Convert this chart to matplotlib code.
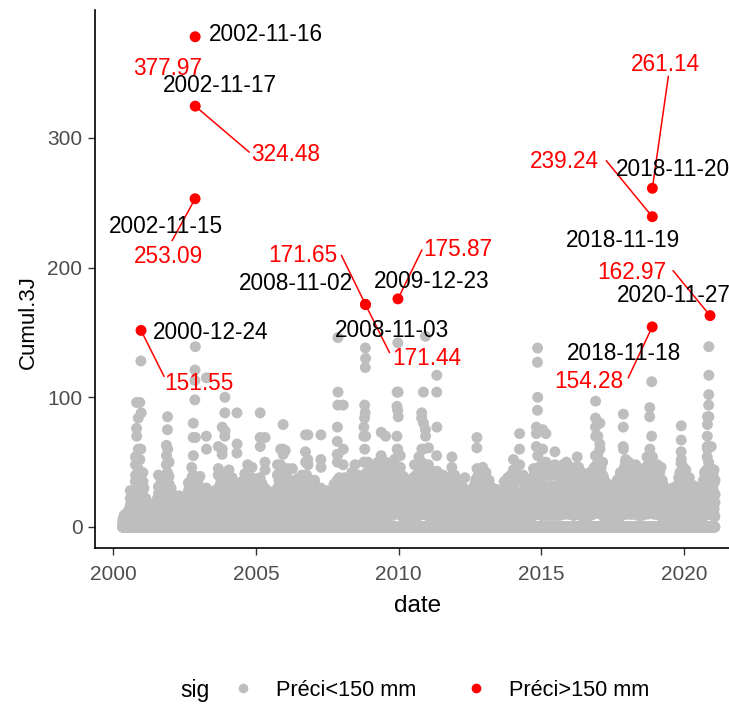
import numpy as np
import pandas as pd
import matplotlib
matplotlib.use("Agg")
import matplotlib.pyplot as plt
import matplotlib.dates as mdates
from matplotlib.lines import Line2D

plt.rcParams['font.family'] = ['Liberation Sans', 'DejaVu Sans']

# Daily record period of the 3-day cumulative rainfall (mm)
record_start = "2000-05-01"
record_end = "2021-01-31"

# Main wet spells: first day and the 3-day cumulative totals on consecutive days.
# Days outside the listed spells had no rain over the previous three days.
wet_spells = [
    ("2000-05-20", [4, 9, 6]), ("2000-06-15", [3, 7, 5]), ("2000-07-10", [5, 11, 8]),
    ("2000-08-05", [6, 14, 22, 28, 17, 8]), ("2000-09-01", [5, 12, 19, 10]),
    ("2000-10-10", [8, 21, 35, 48, 54, 40, 22, 9]), ("2000-10-25", [12, 30, 76, 96, 70, 38, 15]),
    ("2000-11-15", [10, 26, 45, 84, 60, 30, 12]), ("2000-12-05", [9, 20, 33, 96, 52, 28, 11]),
    ("2000-12-20", [25, 60, 128]), ("2000-12-26", [88, 41, 17]),
    ("2001-01-15", [14, 28, 42, 35, 20, 8]), ("2001-02-20", [6, 15, 22, 12]),
    ("2001-03-20", [5, 13, 18, 9]), ("2001-04-15", [7, 16, 11]), ("2001-05-10", [4, 10, 17, 12, 5]),
    ("2001-06-10", [3, 9, 15, 7]), ("2001-07-05", [5, 12, 20, 9]),
    ("2001-08-01", [6, 18, 31, 40, 26, 10]), ("2001-09-05", [8, 22, 36, 28, 12]),
    ("2001-10-05", [10, 24, 38, 30, 14]), ("2001-11-10", [12, 30, 48, 63, 55, 37, 18]),
    ("2001-11-25", [15, 42, 75, 85, 60, 28, 10]), ("2001-12-15", [9, 24, 39, 50, 33, 14]),
    ("2002-01-10", [8, 19, 30, 22, 9]), ("2002-02-05", [6, 14, 25, 16, 7]),
    ("2002-03-05", [5, 12, 21, 14]), ("2002-04-01", [4, 11, 18, 10]),
    ("2002-04-25", [6, 15, 24, 13, 5]), ("2002-05-20", [3, 9, 16, 8]), ("2002-06-15", [4, 10, 17, 9]),
    ("2002-07-15", [5, 13, 22, 11]), ("2002-08-20", [8, 19, 34, 28, 12]),
    ("2002-09-10", [7, 18, 30, 20, 8]), ("2002-10-01", [12, 28, 46, 38, 20]),
    ("2002-10-20", [15, 40, 69, 80, 55, 30]), ("2002-11-12", [98, 113, 121]),
    ("2002-11-18", [139, 69, 36, 15]), ("2002-12-08", [10, 25, 36, 22, 9]),
    ("2002-12-22", [8, 22, 36, 28, 12]),
    ("2003-01-15", [10, 22, 39, 30, 14]), ("2003-02-10", [6, 14, 21, 12]),
    ("2003-04-06", [12, 30, 70, 115, 60, 25, 9]), ("2003-05-10", [5, 13, 21, 10]),
    ("2003-06-20", [4, 11, 18, 8]), ("2003-07-20", [6, 15, 28, 19, 8]),
    ("2003-09-05", [10, 25, 40, 62, 45, 22]), ("2003-10-25", [14, 35, 56, 77, 60, 32, 12]),
    ("2003-11-28", [16, 40, 70, 88, 100, 74, 38, 15]), ("2003-12-20", [10, 26, 42, 35, 18]),
    ("2004-01-20", [12, 28, 44, 36, 18]), ("2004-03-01", [8, 22, 38, 30, 12]),
    ("2004-05-01", [12, 30, 57, 88, 64, 33, 12]), ("2004-06-05", [6, 14, 27, 16, 7]),
    ("2004-07-05", [7, 18, 35, 24, 9]), ("2004-08-10", [9, 22, 41, 30, 12]),
    ("2004-09-15", [10, 25, 48, 36, 15]), ("2004-11-10", [12, 28, 46, 38, 17]),
    ("2004-12-15", [8, 20, 33, 22, 9]),
    ("2005-01-20", [9, 22, 37, 25, 10]), ("2005-02-22", [15, 38, 69, 88, 62, 30, 10]),
    ("2005-04-25", [12, 30, 50, 69, 44, 20, 8]), ("2005-06-01", [5, 12, 22, 13, 6]),
    ("2005-07-10", [6, 15, 27, 16, 7]), ("2005-08-15", [4, 11, 20, 12]),
    ("2005-10-01", [10, 24, 40, 48, 30, 12]), ("2005-11-10", [12, 30, 48, 60, 44, 20]),
    ("2005-12-12", [15, 38, 60, 79, 56, 28, 10]),
    ("2006-01-10", [14, 35, 59, 44, 22]), ("2006-02-10", [10, 26, 45, 35, 16]),
    ("2006-04-10", [9, 22, 45, 32, 12]), ("2006-05-15", [7, 18, 36, 25, 10]),
    ("2006-07-01", [8, 20, 38, 27, 11]), ("2006-08-10", [10, 24, 40, 28, 12]),
    ("2006-09-25", [14, 35, 58, 71, 50, 25, 9]), ("2006-10-25", [12, 30, 52, 71, 48, 20]),
    ("2006-12-01", [8, 20, 36, 24, 10]),
    ("2007-01-20", [8, 20, 36, 26, 11]), ("2007-03-01", [6, 16, 30, 20, 8]),
    ("2007-04-10", [12, 30, 52, 71, 46, 20, 8]), ("2007-05-20", [5, 14, 24, 15, 6]),
    ("2007-07-01", [6, 15, 28, 18, 8]), ("2007-08-15", [4, 12, 20, 11]),
    ("2007-09-25", [7, 18, 33, 22, 9]), ("2007-11-05", [14, 36, 56, 66, 77, 50, 25]),
    ("2007-11-14", [30, 94, 146, 104, 56, 20]),
    ("2008-01-20", [10, 26, 48, 94, 60, 28, 10]), ("2008-03-15", [8, 20, 36, 25, 10]),
    ("2008-05-10", [9, 24, 42, 30, 12]), ("2008-06-20", [10, 26, 48, 34, 14]),
    ("2008-07-25", [8, 20, 40, 28, 11]), ("2008-09-05", [9, 22, 38, 26, 10]),
    ("2008-10-10", [15, 40, 70, 77, 50, 22]), ("2008-10-20", [20, 50, 84, 94, 60, 25]),
    ("2008-10-30", [88, 123, 138]), ("2008-11-04", [130, 70, 30, 12]),
    ("2008-12-01", [12, 30, 50, 38, 16]),
    ("2009-01-15", [10, 28, 46, 34, 14]), ("2009-02-25", [9, 22, 40, 30, 12]),
    ("2009-04-10", [11, 26, 50, 36, 14]), ("2009-05-20", [14, 35, 55, 73, 50, 22]),
    ("2009-07-15", [12, 30, 50, 70, 45, 18]), ("2009-08-25", [10, 24, 42, 30, 12]),
    ("2009-10-05", [12, 30, 48, 36, 16]), ("2009-11-05", [14, 34, 52, 40, 18]),
    ("2009-12-08", [16, 40, 70, 93, 104, 60, 28]), ("2009-12-19", [60, 90, 142]),
    ("2009-12-26", [104, 85, 55, 30, 12]),
    ("2010-01-20", [14, 34, 55, 46, 25, 10]), ("2010-03-01", [9, 22, 39, 28, 12]),
    ("2010-04-15", [8, 20, 33, 24, 10]), ("2010-06-01", [9, 22, 36, 25, 10]),
    ("2010-07-20", [10, 25, 48, 36, 15]), ("2010-09-15", [14, 35, 54, 48, 30, 12]),
    ("2010-10-20", [20, 50, 84, 88, 60, 30]), ("2010-11-12", [28, 60, 104, 80, 40, 15]),
    ("2010-12-08", [30, 75, 147, 70, 30, 12]),
    ("2011-01-15", [12, 30, 48, 61, 40, 18]), ("2011-03-05", [10, 26, 43, 30, 12]),
    ("2011-05-01", [20, 55, 104, 117, 77, 43, 18]), ("2011-06-10", [8, 20, 36, 25, 10]),
    ("2011-07-20", [9, 22, 40, 28, 11]), ("2011-09-01", [8, 19, 34, 24, 9]),
    ("2011-10-10", [9, 21, 36, 25, 10]), ("2011-11-10", [14, 39, 46, 54, 36, 16]),
    ("2011-12-15", [10, 24, 40, 30, 12]),
    ("2012-01-25", [8, 20, 34, 24, 10]), ("2012-03-10", [6, 15, 26, 17, 7]),
    ("2012-04-25", [9, 22, 38, 26, 10]), ("2012-06-10", [5, 13, 22, 14, 6]),
    ("2012-07-25", [6, 16, 28, 18, 8]), ("2012-09-25", [15, 38, 61, 69, 45, 20]),
    ("2012-11-01", [10, 25, 44, 32, 14]), ("2012-12-10", [12, 28, 46, 35, 15]),
    ("2013-01-20", [11, 26, 42, 32, 14]), ("2013-03-01", [8, 20, 36, 25, 10]),
    ("2013-04-15", [7, 18, 30, 21, 9]), ("2013-06-01", [6, 15, 29, 19, 8]),
    ("2013-07-20", [5, 13, 24, 15, 6]), ("2013-09-10", [8, 20, 35, 24, 10]),
    ("2013-10-25", [9, 22, 38, 28, 12]), ("2013-12-05", [10, 24, 40, 30, 13]),
    ("2014-01-05", [12, 30, 44, 52, 38, 16]), ("2014-02-20", [8, 20, 35, 24, 10]),
    ("2014-03-25", [15, 40, 60, 72, 48, 22]), ("2014-05-10", [9, 22, 40, 28, 12]),
    ("2014-06-25", [7, 17, 30, 20, 8]), ("2014-08-10", [8, 20, 36, 25, 10]),
    ("2014-09-20", [10, 25, 45, 33, 14]), ("2014-10-25", [20, 45, 62, 77, 72, 40, 18]),
    ("2014-11-10", [40, 90, 127, 138, 100, 55, 25]),
    ("2015-01-15", [15, 38, 60, 75, 50, 24]), ("2015-02-25", [12, 30, 50, 72, 45, 20]),
    ("2015-04-20", [10, 25, 44, 32, 13]), ("2015-06-20", [12, 30, 48, 58, 40, 18]),
    ("2015-08-15", [10, 26, 46, 34, 14]), ("2015-10-01", [11, 28, 48, 35, 15]),
    ("2015-11-15", [12, 30, 50, 38, 16]), ("2015-12-20", [10, 24, 42, 30, 12]),
    ("2016-01-25", [10, 26, 44, 33, 14]), ("2016-04-01", [13, 34, 54, 42, 20]),
    ("2016-05-25", [10, 25, 42, 30, 12]), ("2016-07-10", [8, 20, 36, 26, 10]),
    ("2016-08-25", [9, 23, 40, 29, 12]), ("2016-10-05", [10, 24, 42, 31, 13]),
    ("2016-11-20", [25, 55, 77, 84, 97, 70, 35, 14]), ("2016-12-20", [14, 36, 56, 70, 48, 22]),
    ("2017-01-15", [18, 42, 64, 80, 60, 30, 12]), ("2017-02-20", [12, 30, 50, 40, 18]),
    ("2017-04-10", [8, 20, 34, 24, 10]), ("2017-05-25", [7, 18, 32, 22, 9]),
    ("2017-07-10", [6, 15, 28, 18, 8]), ("2017-08-25", [8, 20, 36, 25, 10]),
    ("2017-10-05", [10, 24, 42, 30, 12]), ("2017-11-10", [15, 40, 62, 77, 87, 60, 30, 12]),
    ("2017-12-10", [14, 34, 50, 52, 36, 16]),
    ("2018-01-20", [12, 30, 50, 40, 18]), ("2018-03-05", [10, 26, 46, 34, 14]),
    ("2018-04-20", [11, 28, 48, 36, 15]), ("2018-06-10", [9, 22, 40, 28, 12]),
    ("2018-07-25", [10, 24, 44, 32, 14]), ("2018-09-10", [12, 30, 54, 40, 18]),
    ("2018-10-15", [20, 50, 85, 92, 60, 30]), ("2018-11-10", [30, 70, 112]),
    ("2018-11-22", [54, 30, 14]), ("2018-12-10", [14, 34, 46, 36, 16]),
    ("2019-01-20", [12, 30, 48, 36, 15]), ("2019-03-10", [10, 26, 46, 34, 14]),
    ("2019-05-01", [6, 15, 28, 18, 8]), ("2019-06-15", [5, 13, 25, 15, 6]),
    ("2019-08-01", [6, 15, 30, 19, 8]), ("2019-09-15", [7, 17, 30, 20, 8]),
    ("2019-11-20", [14, 34, 49, 58, 67, 78, 52, 25, 10]), ("2019-12-20", [12, 28, 46, 34, 15]),
    ("2020-01-20", [11, 27, 44, 32, 13]), ("2020-03-05", [9, 22, 38, 27, 11]),
    ("2020-04-25", [7, 18, 32, 22, 9]), ("2020-06-10", [6, 16, 28, 18, 8]),
    ("2020-08-01", [7, 17, 30, 20, 8]), ("2020-09-15", [10, 24, 42, 30, 12]),
    ("2020-10-20", [20, 54, 62, 70, 79, 85, 60, 30]),
    ("2020-11-08", [50, 94, 102, 139, 117, 85, 40]), ("2020-12-10", [16, 40, 62, 45, 20]),
    ("2021-01-15", [10, 26, 44, 34, 14]),
]

# Light showers between the main spells
light_spells = [
    ("2000-05-05", [3, 6, 4]), ("2000-05-30", [4, 8, 5]), ("2000-06-25", [3, 7, 11, 6]),
    ("2000-07-25", [4, 9, 14, 8]), ("2000-08-20", [5, 11, 18, 12, 6]),
    ("2000-09-15", [6, 13, 24, 15, 7]), ("2000-09-25", [5, 12, 20, 14]),
    ("2000-11-05", [8, 18, 30, 22, 12, 5]), ("2000-11-28", [7, 16, 28, 20, 9]),
    ("2000-12-12", [8, 19, 34, 24, 11]),
    ("2001-01-05", [6, 14, 24, 17, 8]), ("2001-01-28", [7, 17, 30, 21, 10]),
    ("2001-02-08", [5, 12, 20, 14, 6]), ("2001-03-05", [4, 10, 16, 11, 5]),
    ("2001-04-01", [5, 11, 18, 12]), ("2001-04-28", [3, 8, 14, 9, 4]),
    ("2001-05-25", [4, 9, 15, 10]), ("2001-06-25", [3, 8, 13, 9]),
    ("2001-07-20", [5, 12, 22, 15, 7]), ("2001-08-15", [7, 16, 28, 20, 9]),
    ("2001-08-25", [6, 14, 24, 17]), ("2001-09-20", [7, 17, 30, 20, 9]),
    ("2001-10-20", [8, 18, 32, 22, 10]), ("2001-10-30", [6, 15, 26, 18, 8]),
    ("2001-12-01", [8, 20, 34, 24, 11]), ("2001-12-28", [7, 16, 28, 19, 8]),
    ("2002-01-25", [6, 14, 24, 17, 8]), ("2002-02-20", [5, 12, 20, 14, 6]),
    ("2002-03-20", [4, 10, 17, 12, 5]), ("2002-04-15", [4, 9, 15, 10, 5]),
    ("2002-05-08", [3, 8, 14, 9]), ("2002-06-01", [3, 8, 13, 9, 4]),
    ("2002-06-30", [4, 10, 16, 11]), ("2002-07-30", [6, 14, 24, 17, 8]),
    ("2002-08-05", [5, 12, 20, 14]), ("2002-09-01", [6, 14, 26, 18, 8]),
    ("2002-09-25", [7, 16, 28, 20, 9]), ("2002-10-12", [8, 20, 36, 25, 12]),
    ("2003-01-03", [7, 16, 28, 20, 9]), ("2003-01-28", [6, 14, 24, 16, 7]),
    ("2003-02-25", [5, 12, 20, 14, 6]), ("2003-03-15", [6, 14, 26, 18, 8]),
    ("2003-03-28", [5, 12, 22, 15, 7]), ("2003-04-25", [5, 12, 20, 13, 6]),
    ("2003-05-28", [3, 8, 15, 10, 4]), ("2003-07-05", [4, 10, 18, 12, 5]),
    ("2003-08-05", [5, 12, 22, 15, 7]), ("2003-08-20", [6, 15, 27, 18, 8]),
    ("2003-09-25", [7, 17, 32, 22, 10]), ("2003-10-10", [8, 20, 36, 25, 11]),
    ("2003-11-10", [9, 22, 40, 28, 12]), ("2003-12-08", [8, 20, 36, 25, 11]),
    ("2004-01-05", [8, 19, 34, 24, 11]), ("2004-02-05", [7, 17, 30, 21, 9]),
    ("2004-02-18", [6, 15, 27, 19, 8]), ("2004-03-20", [7, 16, 30, 20, 9]),
    ("2004-04-10", [6, 15, 28, 19, 8]), ("2004-05-18", [6, 14, 24, 16, 7]),
    ("2004-06-20", [5, 12, 22, 15, 7]), ("2004-07-20", [6, 14, 26, 18, 8]),
    ("2004-08-25", [7, 17, 32, 22, 10]), ("2004-09-01", [6, 15, 28, 19]),
    ("2004-10-01", [7, 17, 32, 22, 10]), ("2004-10-20", [8, 19, 36, 25, 11]),
    ("2004-11-25", [7, 17, 30, 21, 9]), ("2004-12-28", [6, 15, 28, 19, 8]),
    ("2005-01-05", [6, 15, 27, 19, 8]), ("2005-02-05", [7, 17, 30, 21, 9]),
    ("2005-03-15", [8, 18, 34, 24, 11]), ("2005-04-05", [7, 16, 30, 21, 9]),
    ("2005-05-15", [5, 12, 22, 15, 7]), ("2005-06-15", [4, 10, 18, 12, 5]),
    ("2005-06-25", [5, 11, 20, 13, 6]), ("2005-07-25", [5, 12, 21, 14, 6]),
    ("2005-09-01", [5, 12, 22, 15, 7]), ("2005-09-15", [6, 15, 28, 19, 8]),
    ("2005-10-20", [8, 19, 36, 25, 11]), ("2005-11-25", [9, 22, 40, 28, 12]),
    ("2005-12-28", [8, 20, 38, 26, 11]),
    ("2006-01-25", [9, 22, 40, 28, 12]), ("2006-02-25", [8, 19, 36, 25, 11]),
    ("2006-03-15", [7, 17, 32, 22, 10]), ("2006-03-28", [8, 19, 34, 24, 11]),
    ("2006-04-25", [7, 16, 30, 21, 9]), ("2006-06-01", [6, 14, 26, 18, 8]),
    ("2006-06-15", [7, 16, 30, 21, 9]), ("2006-07-20", [7, 17, 32, 22, 10]),
    ("2006-08-25", [8, 18, 34, 24, 11]), ("2006-09-10", [8, 20, 36, 25, 11]),
    ("2006-10-10", [9, 22, 40, 28, 12]), ("2006-11-10", [8, 20, 36, 25, 11]),
    ("2006-12-15", [7, 17, 32, 22, 10]),
    ("2007-01-05", [7, 17, 32, 22, 10]), ("2007-02-05", [6, 15, 28, 19, 8]),
    ("2007-02-18", [7, 16, 30, 21, 9]), ("2007-03-20", [6, 15, 28, 19, 8]),
    ("2007-04-25", [6, 14, 26, 18, 8]), ("2007-05-05", [5, 12, 22, 15, 7]),
    ("2007-06-10", [5, 11, 20, 13, 6]), ("2007-06-20", [4, 10, 18, 12, 5]),
    ("2007-07-20", [5, 12, 22, 15, 7]), ("2007-08-01", [4, 10, 18, 12, 5]),
    ("2007-09-01", [5, 12, 22, 15, 7]), ("2007-10-10", [6, 15, 28, 19, 8]),
    ("2007-10-25", [7, 17, 32, 22, 10]), ("2007-12-01", [8, 20, 38, 26, 12]),
    ("2007-12-20", [7, 18, 34, 24, 11]),
    ("2008-01-05", [8, 19, 36, 25, 11]), ("2008-02-10", [8, 20, 38, 26, 12]),
    ("2008-02-25", [7, 18, 34, 24, 11]), ("2008-04-01", [7, 17, 32, 22, 10]),
    ("2008-04-20", [8, 19, 36, 25, 11]), ("2008-05-28", [8, 20, 38, 26, 12]),
    ("2008-06-05", [7, 18, 34, 24, 11]), ("2008-07-05", [8, 20, 40, 28, 12]),
    ("2008-08-10", [8, 19, 38, 26, 11]), ("2008-08-25", [7, 18, 34, 24, 11]),
    ("2008-09-20", [8, 20, 38, 26, 12]), ("2008-11-20", [9, 22, 42, 30, 13]),
    ("2008-12-20", [9, 22, 40, 28, 12]),
    ("2009-01-03", [9, 22, 42, 30, 13]), ("2009-02-05", [8, 20, 38, 26, 12]),
    ("2009-03-10", [8, 19, 36, 25, 11]), ("2009-03-25", [9, 21, 40, 28, 12]),
    ("2009-04-25", [9, 22, 42, 30, 13]), ("2009-05-05", [8, 20, 38, 26, 12]),
    ("2009-06-15", [9, 22, 44, 31, 13]), ("2009-07-01", [8, 20, 40, 28, 12]),
    ("2009-08-05", [8, 19, 38, 26, 11]), ("2009-09-15", [9, 21, 40, 28, 12]),
    ("2009-10-20", [9, 22, 42, 30, 13]), ("2009-11-20", [10, 24, 44, 32, 14]),
    ("2010-01-05", [10, 24, 46, 34, 15]), ("2010-02-05", [9, 22, 40, 28, 12]),
    ("2010-02-18", [8, 20, 36, 25, 11]), ("2010-03-20", [7, 17, 32, 22, 10]),
    ("2010-04-01", [8, 18, 34, 24, 11]), ("2010-05-05", [7, 16, 30, 21, 9]),
    ("2010-05-18", [8, 18, 33, 23, 10]), ("2010-06-20", [8, 19, 36, 25, 11]),
    ("2010-07-05", [8, 20, 38, 26, 12]), ("2010-08-10", [9, 21, 40, 28, 12]),
    ("2010-08-25", [8, 20, 38, 26, 12]), ("2010-10-01", [9, 22, 42, 30, 13]),
    ("2010-11-01", [10, 24, 44, 32, 14]), ("2010-11-28", [10, 24, 46, 34, 15]),
    ("2010-12-25", [9, 22, 42, 30, 13]),
    ("2011-01-03", [9, 22, 42, 30, 13]), ("2011-02-05", [8, 20, 38, 26, 12]),
    ("2011-02-20", [9, 21, 40, 28, 12]), ("2011-03-25", [8, 19, 36, 25, 11]),
    ("2011-04-10", [9, 21, 40, 28, 12]), ("2011-05-20", [8, 19, 36, 25, 11]),
    ("2011-06-25", [7, 17, 32, 22, 10]), ("2011-07-05", [8, 18, 34, 24, 11]),
    ("2011-08-10", [7, 17, 32, 22, 10]), ("2011-08-20", [8, 18, 34, 24, 11]),
    ("2011-09-20", [7, 17, 32, 22, 10]), ("2011-10-25", [8, 19, 36, 25, 11]),
    ("2011-11-25", [9, 21, 40, 28, 12]), ("2011-12-28", [8, 19, 36, 25, 11]),
    ("2012-01-08", [7, 17, 32, 22, 10]), ("2012-02-10", [6, 15, 28, 19, 8]),
    ("2012-02-25", [6, 14, 26, 18, 8]), ("2012-03-25", [6, 14, 26, 18, 8]),
    ("2012-04-10", [7, 16, 30, 21, 9]), ("2012-05-10", [6, 15, 28, 19, 8]),
    ("2012-05-25", [5, 12, 22, 15, 7]), ("2012-06-25", [5, 12, 22, 15, 7]),
    ("2012-07-10", [6, 14, 26, 18, 8]), ("2012-08-10", [7, 16, 30, 21, 9]),
    ("2012-08-25", [7, 17, 32, 22, 10]), ("2012-09-10", [8, 19, 36, 25, 11]),
    ("2012-10-15", [8, 19, 36, 25, 11]), ("2012-11-20", [8, 20, 38, 26, 12]),
    ("2012-12-25", [8, 19, 36, 25, 11]),
    ("2013-01-05", [8, 19, 36, 25, 11]), ("2013-02-05", [8, 18, 34, 24, 11]),
    ("2013-02-18", [7, 17, 32, 22, 10]), ("2013-03-18", [7, 16, 30, 21, 9]),
    ("2013-04-01", [7, 16, 30, 21, 9]), ("2013-05-01", [6, 14, 26, 18, 8]),
    ("2013-05-15", [6, 15, 28, 19, 8]), ("2013-06-15", [5, 13, 24, 16, 7]),
    ("2013-07-05", [5, 12, 22, 15, 7]), ("2013-08-05", [6, 14, 26, 18, 8]),
    ("2013-08-20", [6, 15, 28, 19, 8]), ("2013-09-25", [7, 17, 32, 22, 10]),
    ("2013-10-10", [8, 18, 34, 24, 11]), ("2013-11-10", [8, 19, 36, 25, 11]),
    ("2013-11-25", [8, 20, 38, 26, 12]), ("2013-12-20", [8, 19, 36, 25, 11]),
    ("2014-01-20", [8, 20, 38, 26, 12]), ("2014-02-05", [8, 19, 36, 25, 11]),
    ("2014-03-08", [8, 20, 38, 26, 12]), ("2014-04-10", [8, 19, 36, 25, 11]),
    ("2014-04-25", [8, 20, 38, 26, 12]), ("2014-05-25", [8, 19, 36, 25, 11]),
    ("2014-06-10", [7, 17, 32, 22, 10]), ("2014-07-10", [7, 16, 30, 21, 9]),
    ("2014-07-25", [7, 17, 32, 22, 10]), ("2014-08-25", [8, 19, 36, 25, 11]),
    ("2014-09-05", [8, 20, 38, 26, 12]), ("2014-10-05", [9, 22, 42, 30, 13]),
    ("2014-11-25", [10, 24, 46, 34, 15]), ("2014-12-10", [10, 24, 46, 34, 15]),
    ("2014-12-25", [9, 22, 42, 30, 13]),
    ("2015-01-03", [9, 22, 42, 30, 13]), ("2015-02-05", [9, 22, 42, 30, 13]),
    ("2015-03-15", [9, 21, 40, 28, 12]), ("2015-04-01", [9, 22, 42, 30, 13]),
    ("2015-05-05", [9, 22, 42, 30, 13]), ("2015-05-20", [9, 21, 40, 28, 12]),
    ("2015-06-05", [9, 22, 42, 30, 13]), ("2015-07-05", [9, 22, 44, 31, 13]),
    ("2015-07-25", [9, 21, 40, 28, 12]), ("2015-09-01", [9, 22, 42, 30, 13]),
    ("2015-09-15", [10, 24, 46, 34, 15]), ("2015-10-20", [10, 24, 46, 34, 15]),
    ("2015-11-01", [10, 24, 44, 32, 14]), ("2015-12-05", [10, 24, 46, 34, 15]),
    ("2016-01-08", [10, 24, 46, 34, 15]), ("2016-02-10", [9, 22, 42, 30, 13]),
    ("2016-02-25", [9, 22, 44, 31, 13]), ("2016-03-15", [10, 24, 46, 34, 15]),
    ("2016-04-20", [10, 24, 46, 34, 15]), ("2016-05-05", [9, 22, 42, 30, 13]),
    ("2016-06-10", [9, 21, 40, 28, 12]), ("2016-06-25", [8, 20, 38, 26, 12]),
    ("2016-07-25", [8, 20, 38, 26, 12]), ("2016-08-10", [9, 21, 40, 28, 12]),
    ("2016-09-10", [9, 22, 42, 30, 13]), ("2016-09-25", [9, 21, 40, 28, 12]),
    ("2016-10-20", [10, 24, 44, 32, 14]), ("2016-11-05", [10, 24, 46, 34, 15]),
    ("2016-12-05", [11, 26, 48, 36, 16]),
    ("2017-01-01", [11, 26, 48, 36, 16]), ("2017-02-01", [10, 24, 46, 34, 15]),
    ("2017-03-05", [8, 20, 38, 26, 12]), ("2017-03-20", [7, 17, 32, 22, 10]),
    ("2017-04-25", [7, 16, 30, 21, 9]), ("2017-05-10", [6, 15, 28, 19, 8]),
    ("2017-06-10", [6, 14, 26, 18, 8]), ("2017-06-25", [6, 15, 28, 19, 8]),
    ("2017-07-25", [7, 16, 30, 21, 9]), ("2017-08-10", [7, 17, 32, 22, 10]),
    ("2017-09-10", [8, 19, 36, 25, 11]), ("2017-09-25", [8, 20, 38, 26, 12]),
    ("2017-10-20", [9, 22, 42, 30, 13]), ("2017-10-30", [9, 21, 40, 28, 12]),
    ("2017-11-25", [10, 24, 46, 34, 15]), ("2017-12-25", [10, 24, 44, 32, 14]),
    ("2018-01-05", [10, 24, 46, 34, 15]), ("2018-02-05", [10, 24, 44, 32, 14]),
    ("2018-02-20", [10, 24, 46, 34, 15]), ("2018-03-20", [10, 24, 46, 34, 15]),
    ("2018-04-05", [10, 24, 44, 32, 14]), ("2018-05-05", [10, 24, 46, 34, 15]),
    ("2018-05-20", [9, 22, 42, 30, 13]), ("2018-06-25", [9, 21, 40, 28, 12]),
    ("2018-07-10", [9, 22, 42, 30, 13]), ("2018-08-10", [10, 24, 44, 32, 14]),
    ("2018-08-25", [10, 24, 46, 34, 15]), ("2018-09-25", [10, 24, 46, 34, 15]),
    ("2018-10-01", [11, 26, 48, 36, 16]), ("2018-10-28", [12, 28, 50, 38, 17]),
    ("2018-12-01", [10, 24, 44, 32, 14]), ("2018-12-25", [10, 24, 44, 32, 14]),
    ("2019-01-05", [10, 24, 44, 32, 14]), ("2019-02-05", [10, 24, 44, 32, 14]),
    ("2019-02-20", [9, 22, 42, 30, 13]), ("2019-03-25", [8, 19, 36, 25, 11]),
    ("2019-04-10", [7, 17, 32, 22, 10]), ("2019-04-20", [6, 15, 28, 19, 8]),
    ("2019-05-20", [5, 13, 24, 16, 7]), ("2019-06-01", [5, 12, 22, 15, 7]),
    ("2019-07-01", [5, 12, 22, 15, 7]), ("2019-07-15", [5, 13, 24, 16, 7]),
    ("2019-08-20", [6, 14, 26, 18, 8]), ("2019-09-01", [6, 15, 28, 19, 8]),
    ("2019-10-01", [7, 17, 32, 22, 10]), ("2019-10-20", [8, 20, 38, 26, 12]),
    ("2019-11-05", [9, 22, 42, 30, 13]), ("2019-12-05", [10, 24, 44, 32, 14]),
    ("2020-01-05", [9, 22, 42, 30, 13]), ("2020-02-05", [8, 20, 38, 26, 12]),
    ("2020-02-20", [8, 19, 36, 25, 11]), ("2020-03-25", [7, 17, 32, 22, 10]),
    ("2020-04-10", [7, 16, 30, 21, 9]), ("2020-05-10", [6, 15, 28, 19, 8]),
    ("2020-05-25", [6, 14, 26, 18, 8]), ("2020-06-25", [6, 15, 28, 19, 8]),
    ("2020-07-10", [6, 15, 28, 19, 8]), ("2020-07-20", [7, 16, 30, 21, 9]),
    ("2020-08-20", [7, 17, 32, 22, 10]), ("2020-09-01", [8, 19, 36, 25, 11]),
    ("2020-10-01", [9, 22, 42, 30, 13]), ("2020-10-10", [10, 24, 44, 32, 14]),
    ("2020-11-20", [10, 24, 46, 34, 15]), ("2020-12-01", [10, 24, 44, 32, 14]),
    ("2020-12-25", [9, 22, 42, 30, 13]),
    ("2021-01-03", [9, 22, 40, 28, 12]), ("2021-01-28", [8, 19, 36, 25]),
]

# Days with more than 150 mm over three days
extreme_dates = ["2000-12-24", "2002-11-15", "2002-11-16", "2002-11-17",
                 "2008-11-02", "2008-11-03", "2009-12-23", "2018-11-18",
                 "2018-11-19", "2018-11-20", "2020-11-27"]
extreme_values = [151.55, 253.09, 377.97, 324.48, 171.65, 171.44, 175.87,
                  154.28, 239.24, 261.14, 162.97]

threshold = 150
legend_labels = ["Préci<150 mm", "Préci>150 mm"]
year_ticks = [2000, 2005, 2010, 2015, 2020]
value_ticks = [0, 100, 200, 300]

# ---- assemble the daily series ----
days = pd.date_range(record_start, record_end, freq="D")
cumul = pd.Series(0.0, index=days)
for start, vals in light_spells + wet_spells:
    cumul.loc[pd.date_range(start, periods=len(vals), freq="D")] = vals
cumul.loc[pd.to_datetime(extreme_dates)] = extreme_values
sig = cumul.values > threshold

GRAY = "#BEBEBE"
RED = "#FF0000"
PT = 62

fig = plt.figure(figsize=(7.29, 7.04), dpi=100)
# the panel runs slightly past the right edge of the canvas
ax = fig.add_axes([95 / 729, 1 - 548 / 704, (740 - 95) / 729, (548 - 10) / 704])

ax.scatter(cumul.index[~sig], cumul.values[~sig], s=PT, color=GRAY,
           edgecolors="none", zorder=2)
ax.scatter(cumul.index[sig], cumul.values[sig], s=PT, color=RED,
           edgecolors="none", zorder=3)

# label layout: pixel offsets (dx, dy; y downward) from each point for the
# date text, the value text and the far end of the leader (None: no leader)
date_offsets = [(70, 2), (-29, 28), (71, -2), (25, -21), (-69, -21),
                (26, 26), (34, -17), (-28, 27), (-29, 24), (21, -19), (-36, -20)]
value_offsets = [(58, 53), (-27, 58), (-28, 32), (90, 48), (-63, -49),
                 (61, 54), (60, -49), (-63, 55), (-88, -55), (13, -124), (-78, -43)]
segment_ends = [(23, 46), (-23, 42), None, (54, 46), (-24, -49),
                (24, 48), (24, -49), (-24, 51), (-46, -56), (16, -112), (-37, -45)]

LABEL_FS = 16.3
for d, v, do, vo, se in zip(extreme_dates, extreme_values, date_offsets,
                            value_offsets, segment_ends):
    x = pd.Timestamp(d)
    if se is not None:
        ax.annotate("", xy=(x, v), xytext=(se[0], -se[1]), textcoords="offset pixels",
                    arrowprops=dict(arrowstyle="-", color=RED, lw=1.1,
                                    shrinkA=0, shrinkB=2), zorder=4)
    ax.annotate(d, xy=(x, v), xytext=(do[0], -do[1]), textcoords="offset pixels",
                ha="center", va="center", fontsize=LABEL_FS, color="black", zorder=5)
    ax.annotate(f"{v:.2f}", xy=(x, v), xytext=(vo[0], -vo[1]),
                textcoords="offset pixels", ha="center", va="center",
                fontsize=LABEL_FS, color=RED, zorder=5)

ax.set_xlim(pd.Timestamp("1999-05-15"), pd.Timestamp("2021-12-15"))
ax.set_ylim(-16.2, 398.6)
ax.set_xticks([pd.Timestamp(f"{y}-01-01") for y in year_ticks])
ax.xaxis.set_major_formatter(mdates.DateFormatter("%Y"))
ax.set_yticks(value_ticks)

for side in ("top", "right"):
    ax.spines[side].set_visible(False)
for side in ("left", "bottom"):
    ax.spines[side].set_color("black")
    ax.spines[side].set_linewidth(1.2)
ax.tick_params(axis="both", colors="#333333", labelcolor="#4D4D4D",
               labelsize=15, length=5, width=1.0)
ax.tick_params(axis="x", pad=7)
ax.tick_params(axis="y", pad=4)
ax.set_xlabel("date", fontsize=17.5, color="black", labelpad=8)
ax.set_ylabel("Cumul.3J", fontsize=16, color="black", labelpad=6)
ax.yaxis.label.set_y(0.42)

# legend along the bottom
handles = [Line2D([], [], linestyle="none", marker="o", markersize=7,
                  markerfacecolor=GRAY, markeredgecolor="none"),
           Line2D([], [], linestyle="none", marker="o", markersize=7,
                  markerfacecolor=RED, markeredgecolor="none")]
fig.text(195 / 729, 1 - 691 / 704, "sig", fontsize=16.5, ha="center", va="center")
fig.legend(handles, legend_labels, loc="center left",
           bbox_to_anchor=(223 / 729, 1 - 690 / 704), ncol=2, frameon=False,
           fontsize=15.7, handlelength=1.0, handletextpad=1.05, columnspacing=2.2,
           borderaxespad=0)

fig.savefig("out.png", dpi=100)
